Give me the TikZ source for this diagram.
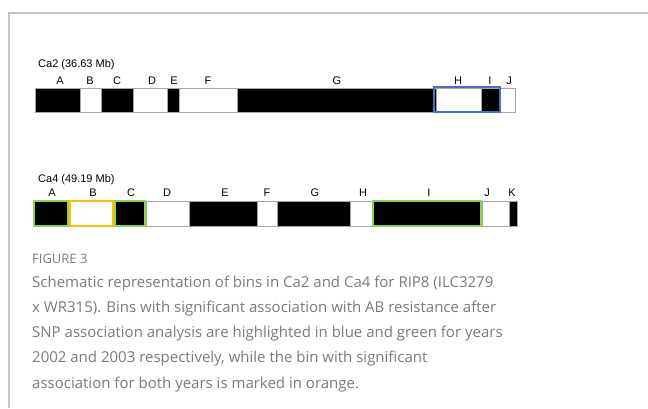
\documentclass[tikz,border=0pt]{standalone}
\usepackage{fontspec}
\setmainfont{Liberation Sans}
\newfontfamily\capfont{Open Sans}
\definecolor{frameg}{HTML}{C4C4C4}
\definecolor{capg}{HTML}{7A7A7A}
\definecolor{blu}{HTML}{4472C4}
\definecolor{grn}{HTML}{92D050}
\definecolor{org}{HTML}{FFC000}
\begin{document}
\begin{tikzpicture}[x=1pt,y=-1pt,
  lab/.style={font=\fontsize{11}{13}\selectfont, inner sep=0pt, anchor=base},
  ttl/.style={font=\fontsize{11}{13}\selectfont, inner sep=0pt, anchor=base west},
  blk/.style={fill=black, draw=gray!70, line width=0.6pt},
  wht/.style={fill=white, draw=gray!70, line width=0.6pt},
  hl/.style={line width=2.6pt},
  capline/.style={inner sep=0pt, anchor=base west, text=capg, font=\capfont\fontsize{15}{18}\selectfont}]
\useasboundingbox (0,0) rectangle (648,408);
\draw[frameg, line width=1.2pt] (9,408) -- (9,13) -- (648,13);

% ---- Ca2 ----
\node[ttl] (t2) at (38,67) {Ca2 (36.63 Mb)};
\draw[blk] (35,88) rectangle (80,112);
\draw[wht] (80,88) rectangle (101,112);
\draw[blk] (101,88) rectangle (133,112);
\draw[wht] (133,88) rectangle (167,112);
\draw[blk] (167,88) rectangle (179,112);
\draw[wht] (179,88) rectangle (237,112);
\draw[blk] (237,88) rectangle (436,112);
\draw[wht] (436,88) rectangle (481,112);
\draw[blk] (481,88) rectangle (500,112);
\draw[wht] (500,88) rectangle (515,112);
\draw[blu, hl] (434,87) rectangle (500,112);
\foreach \n/\x in {A/60,B/90,C/117,D/152,E/174,F/208,G/337,H/458,I/490,J/509}
  \node[lab] (a\n) at (\x,84) {\n};

% ---- Ca4 ----
\node[ttl] (t4) at (38,182) {Ca4 (49.19 Mb)};
\draw[blk] (33,201) rectangle (69,226);
\draw[wht] (69,201) rectangle (114,226);
\draw[blk] (114,201) rectangle (146,226);
\draw[wht] (146,201) rectangle (189,226);
\draw[blk] (189,201) rectangle (257,226);
\draw[wht] (257,201) rectangle (277,226);
\draw[blk] (277,201) rectangle (350,226);
\draw[wht] (350,201) rectangle (372,226);
\draw[blk] (372,201) rectangle (482,226);
\draw[wht] (482,201) rectangle (509,226);
\draw[blk] (509,201) rectangle (517,226);
\draw[grn, hl] (34,201) rectangle (68,226);
\draw[org, hl] (70,201) rectangle (113,226);
\draw[grn, hl] (115,201) rectangle (145,226);
\draw[grn, hl] (373,201) rectangle (481,226);
\foreach \n/\x in {A/52,B/93,C/131,D/167,E/225,F/267,G/315,H/363,I/429,J/487,K/512}
  \node[lab] (b\n) at (\x,196) {\n};

% ---- caption ----
\node[capline, font=\capfont\fontsize{13}{15}\selectfont] (fig) at (32,263) {FIGURE 3};
\node[capline] (c1) at (32,287) {Schematic representation of bins in Ca2 and Ca4 for RIP8 (ILC3279};
\node[capline] (c2) at (32,312.3) {x WR315). Bins with significant association with AB resistance after};
\node[capline] (c3) at (32,337.6) {SNP association analysis are highlighted in blue and green for years};
\node[capline] (c4) at (32,362.9) {2002 and 2003 respectively, while the bin with significant};
\node[capline] (c5) at (32,388.2) {association for both years is marked in orange.};
\end{tikzpicture}
\end{document}
